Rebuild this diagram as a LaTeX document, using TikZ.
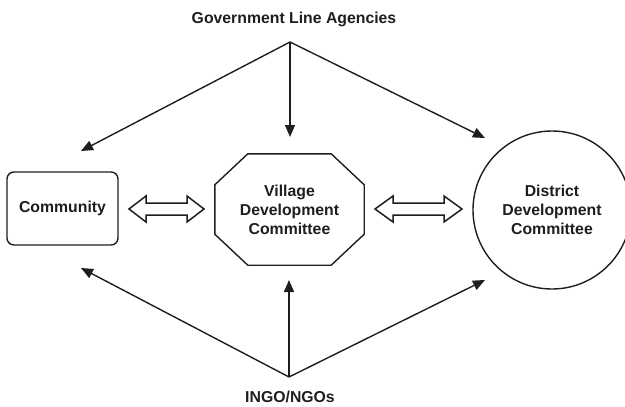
\documentclass[tikz,border=0pt]{standalone}
\usepackage{fontspec}
\setmainfont{Liberation Sans}
\usetikzlibrary{arrows.meta,calc}

\definecolor{ink}{HTML}{1E1E1E}

\tikzset{
  label text/.style={font=\bfseries\fontsize{15.8}{19}\selectfont, text=ink, align=center, inner sep=0pt},
  outline/.style={draw=ink, line width=1.4pt},
  link/.style={draw=ink, line width=1.4pt, -{Triangle[length=12pt,width=10pt]}},
  hollowarr/.style={draw=ink, line width=1.5pt, fill=white, line join=miter},
}

% hollow two-headed arrow: left x, right x, centre y, head length
\newcommand\hollowarrow[4]{%
  \draw[hollowarr] (#1,#3) -- (#1+#4,#3-13) -- (#1+#4,#3-6) -- (#2-#4,#3-6)
    -- (#2-#4,#3-13) -- (#2,#3) -- (#2-#4,#3+13) -- (#2-#4,#3+6)
    -- (#1+#4,#3+6) -- (#1+#4,#3+13) -- cycle;}

\begin{document}
\begin{tikzpicture}[x=1pt,y=-1pt]
  \useasboundingbox (0,0) rectangle (625,407);
  \clip (0,0) rectangle (625,407);

  % sources
  \node[label text] (gla) at (294,19) {Government Line Agencies};
  \node[label text] (ingo) at (290,397) {INGO/NGOs};
  \coordinate (apexT) at (290,42);
  \coordinate (apexB) at (289,377);

  % the three bodies
  \node[outline, rounded corners=7pt, minimum width=111pt, minimum height=73pt,
        label text] (comm) at (62.5,208.5) {Community};
  \node[minimum width=149pt, minimum height=111pt, inner sep=0pt] (vdc) at (289.5,209.5) {};
  \draw[outline]
    ($(vdc.north west)+(33,0)$) -- ($(vdc.north east)+(-33,0)$)
    -- ($(vdc.north east)+(0,31)$) -- ($(vdc.south east)+(0,-31)$)
    -- ($(vdc.south east)+(-33,0)$) -- ($(vdc.south west)+(33,0)$)
    -- ($(vdc.south west)+(0,-31)$) -- ($(vdc.north west)+(0,31)$) -- cycle;
  \node[label text] at (vdc) {Village\\Development\\Committee};
  \node[outline, circle, minimum size=158pt, inner sep=0pt] (ddc) at (552,210) {};
  \node[label text] at (ddc) {District\\Development\\Committee};

  % arrow ends
  \coordinate (t1) at (81,151);
  \coordinate (t2) at (290,137);
  \coordinate (t3) at (485,138);
  \coordinate (b1) at (81,268);
  \coordinate (b2) at (289,280);
  \coordinate (b3) at (485,280);

  \draw[link] (apexT) -- (t1);
  \draw[link] (apexT) -- (t2);
  \draw[link] (apexT) -- (t3);
  \draw[link] (apexB) -- (b1);
  \draw[link] (apexB) -- (b2);
  \draw[link] (apexB) -- (b3);

  % two-way exchanges
  \hollowarrow{129}{204}{209}{17}
  \hollowarrow{375}{462}{209}{18}
\end{tikzpicture}
\end{document}
